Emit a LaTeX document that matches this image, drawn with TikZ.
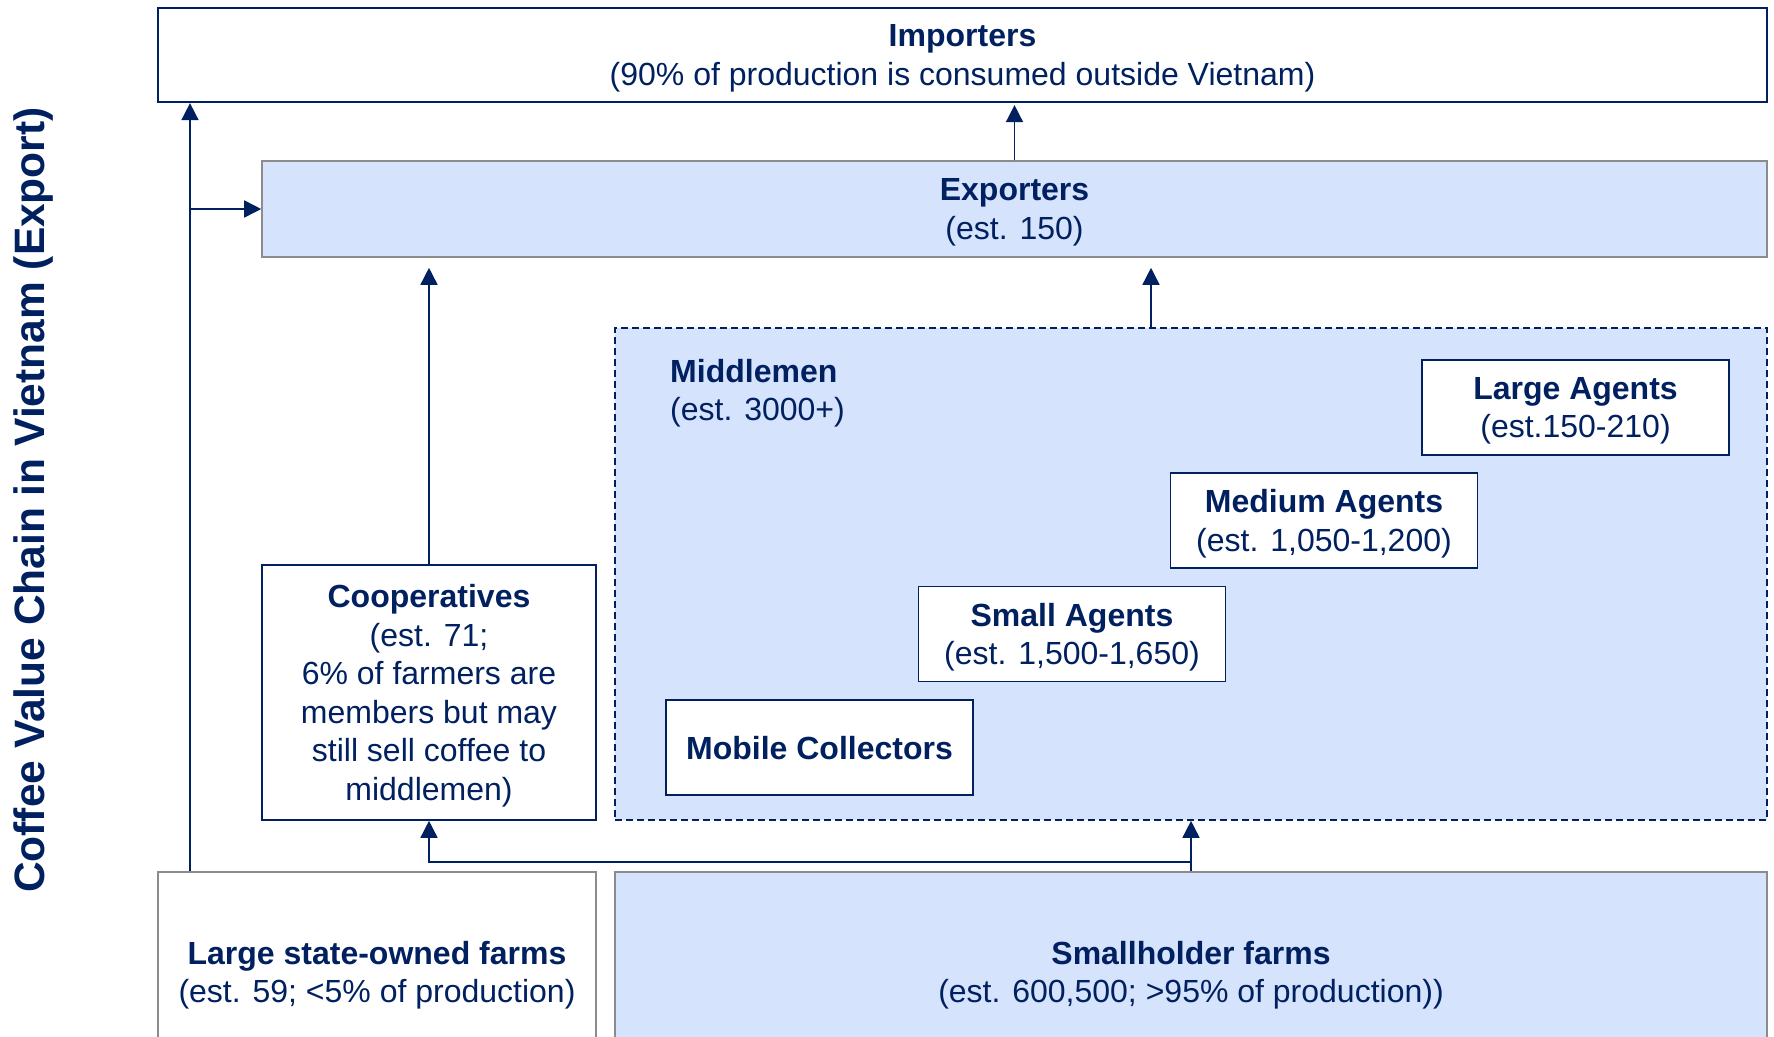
\documentclass[tikz,border=0pt]{standalone}
\usepackage{fontspec}
\setmainfont{Liberation Sans}
\usetikzlibrary{positioning, arrows.meta, calc}

\definecolor{navy}{RGB}{0,32,96}
\definecolor{paleblue}{RGB}{214,227,252}
\definecolor{edgegray}{RGB}{140,140,140}

\begin{document}
\begin{tikzpicture}[x=1pt, y=-1pt,
    every node/.style={font=\fontsize{32}{38.5}\selectfont, text=navy, align=center, inner sep=0pt},
    navybox/.style={draw=navy, line width=1.6pt, text depth=-8pt},
    graybox/.style={draw=edgegray, line width=1.6pt, text depth=-8pt},
    agent/.style={navybox, fill=white, minimum width=307pt, minimum height=95pt},
    flow/.style={draw=navy, line width=1.6pt, -{Triangle[length=17pt,width=17pt]}}]
  \useasboundingbox (0,0) rectangle (1774,1036);
  \clip (0,0) rectangle (1774,1036);

  % Title
  \node[rotate=90, font=\fontsize{42.5}{50}\selectfont\bfseries] (title) at (34,500)
    {Coffee Value Chain in Vietnam (Export)};

  % Top boxes
  \node[navybox, line width=2.2pt, minimum width=1609pt, minimum height=94pt] (imp) at (962.5,55)
    {\textbf{Importers}\\(90\% of production is consumed outside Vietnam)};
  \node[graybox, fill=paleblue, minimum width=1505pt, minimum height=96pt] (exp) at (1014.5,209)
    {\textbf{Exporters}\\(est. 150)};

  % Middlemen
  \node[draw=navy, line width=1.6pt, dash pattern=on 7pt off 4pt, fill=paleblue,
    minimum width=1152pt, minimum height=492pt] (mid) at (1191,574) {};
  \node[anchor=west, align=left] (midlbl) at (670,393) {\textbf{Middlemen}\\(est. 3000+)};
  \foreach \nm/\cx/\cy/\txt in {
      large/1575.5/407.5/{\textbf{Large Agents}\\(est.150-210)},
      medium/1324/520.5/{\textbf{Medium Agents}\\(est. 1,050-1,200)},
      smallag/1072/634/{\textbf{Small Agents}\\(est. 1,500-1,650)},
      mobile/819.5/747.5/{\textbf{Mobile Collectors}}} {
    \node[agent] (\nm) at (\cx,\cy) {\txt};
  }

  % Cooperatives
  \node[navybox, minimum width=334pt, minimum height=255pt] (coop) at (429,692.5)
    {\textbf{Cooperatives}\\(est. 71;\\6\% of farmers are\\members but may\\still sell coffee to\\middlemen)};

  % Farms
  \node[graybox, minimum width=438pt, minimum height=200pt] (state) at (377,972)
    {\textbf{Large state-owned farms}\\(est. 59; <5\% of production)};
  \node[graybox, fill=paleblue, minimum width=1152pt, minimum height=200pt] (holders) at (1191,972)
    {\textbf{Smallholder farms}\\(est. 600,500; >95\% of production))};

  % Connectors
  \coordinate (lx) at (190,0);
  \coordinate (mx) at (1151,0);
  \coordinate (fork) at (1191,862);
  \draw[flow] (state.north -| lx) -- (imp.south -| lx);
  \draw[flow] (lx |- exp.west) -- (exp.west);
  \draw[flow, shorten >=2pt] (exp.north) -- (imp.south -| exp.north);
  \draw[flow, shorten >=10pt] (coop.north) -- (exp.south -| coop.north);
  \draw[flow, shorten >=10pt] (mid.north -| mx) -- (exp.south -| mx);
  \draw[flow] (holders.north) -- (mid.south);
  \draw[flow] (fork) -| (coop.south);
\end{tikzpicture}
\end{document}
